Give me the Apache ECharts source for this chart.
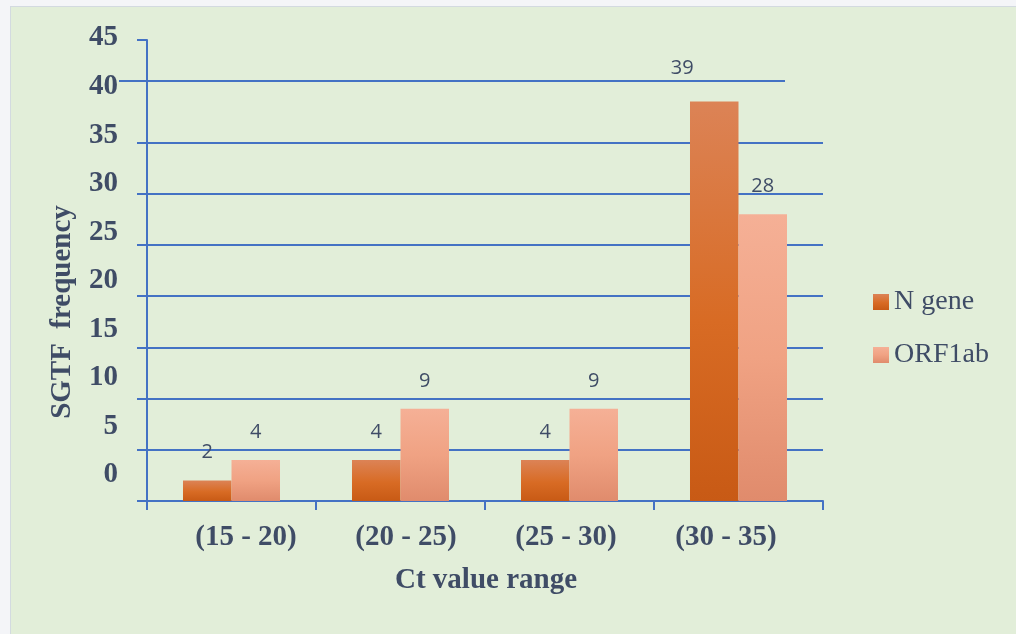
<!DOCTYPE html>
<html>
<head>
<meta charset="utf-8">
<script src="https://cdn.jsdelivr.net/npm/echarts@6/dist/echarts.min.js"></script>
<style>
  html, body { margin: 0; padding: 0; background: #F4F5F8; }
  #panel { position: absolute; left: 10px; top: 6px; width: 1006px; height: 628px;
           background: #E2EED9; border-left: 1px solid #D3DAE0; border-top: 1px solid #D3DAE0;
           box-sizing: border-box; }
  #chart { position: absolute; left: 0; top: 0; width: 1016px; height: 634px; }
</style>
</head>
<body>
<div id="panel"></div>
<div id="chart"></div>
<script>
// SGTF frequency per Ct value range
const categories = ['(15 - 20)', '(20 - 25)', '(25 - 30)', '(30 - 35)'];
const nGene = [2, 4, 4, 39];
const orf1ab = [4, 9, 9, 28];
const yTicks = [0, 5, 10, 15, 20, 25, 30, 35, 40, 45];
const seriesNames = ['N gene', 'ORF1ab'];

const AXIS_BLUE = '#4472C4';
const TEXT = '#3F4C66';
const SERIF = '"Liberation Serif", "DejaVu Serif", serif';
const SANS = '"Open Sans", "Noto Sans", sans-serif';
const HIDDEN_GRID_VALUE = 40;   // the 40 line is drawn separately, slightly higher
const RAISED_LINE_VALUE = 41;

const yMin = yTicks[0], yMax = yTicks[yTicks.length - 1], yStep = yTicks[1] - yTicks[0];

const grad = (stops) => new echarts.graphic.LinearGradient(0, 0, 0, 1,
  stops.map(([offset, color]) => ({ offset, color })));

const nGeneFill = grad([[0, '#DC8356'], [0.55, '#D86B24'], [1, '#C85A15']]);
const orfFill = grad([[0, '#F5B096'], [0.5, '#F0A283'], [1, '#E08B6C']]);

const chart = echarts.init(document.getElementById('chart'), null, { renderer: 'canvas' });

const labelBase = {
  show: true, position: 'top', distance: 18,
  color: TEXT, fontFamily: SANS, fontSize: 20
};

// the label of the tallest bar sits off to the left
const nGeneData = nGene.map((v, i) =>
  i === nGene.length - 1 ? { value: v, label: { offset: [-32, -5] } } : v);

const boldSerif = { color: TEXT, fontFamily: SERIF, fontWeight: 'bold', fontSize: 29 };

chart.setOption({
  animation: false,
  grid: [
    // plot area
    { left: 147, right: 193, top: 40, bottom: 133, containLabel: false },
    // value tick-label column
    { left: 147, right: 193, top: 38, height: 437, containLabel: false },
    // category label row
    { left: 166, width: 640, top: 40, bottom: 133, containLabel: false }
  ],
  legend: {
    orient: 'vertical', left: 868, top: 283,
    itemWidth: 16, itemHeight: 16, itemGap: 25, icon: 'rect',
    textStyle: { color: TEXT, fontFamily: SERIF, fontSize: 28 },
    data: seriesNames
  },
  xAxis: [
    {
      type: 'category', gridIndex: 0, data: categories,
      axisLine: { show: true, lineStyle: { color: AXIS_BLUE, width: 2 } },
      axisTick: { show: true, alignWithLabel: false, length: 9, lineStyle: { color: AXIS_BLUE, width: 2 } },
      axisLabel: { show: false }
    },
    { type: 'value', gridIndex: 1, show: false },
    {
      type: 'category', gridIndex: 2, data: categories,
      axisLine: { show: false }, axisTick: { show: false },
      axisLabel: Object.assign({ margin: 22 }, boldSerif),
      name: 'Ct value range', nameLocation: 'middle', nameGap: 65,
      nameTextStyle: boldSerif
    }
  ],
  yAxis: [
    {
      type: 'value', gridIndex: 0, min: yMin, max: yMax, interval: yStep,
      axisLine: { show: true, lineStyle: { color: AXIS_BLUE, width: 2 } },
      axisTick: { show: true, length: 10, customValues: yTicks.filter(v => v !== HIDDEN_GRID_VALUE),
                  lineStyle: { color: AXIS_BLUE, width: 2 } },
      axisLabel: { show: false },
      splitLine: { show: true, lineStyle: {
        color: yTicks.map(v => v === HIDDEN_GRID_VALUE ? 'rgba(0,0,0,0)' : AXIS_BLUE), width: 2 } }
    },
    {
      type: 'value', gridIndex: 1, min: yMin, max: yMax, interval: yStep,
      axisLine: { show: false }, axisTick: { show: false }, splitLine: { show: false },
      axisLabel: Object.assign({ margin: 29 }, boldSerif)
    },
    { type: 'value', gridIndex: 2, show: false }
  ],
  series: [
    {
      name: seriesNames[0], type: 'bar', xAxisIndex: 0, yAxisIndex: 0,
      data: nGeneData, barGap: '0%', barCategoryGap: '42.6%',
      itemStyle: { color: nGeneFill },
      label: labelBase
    },
    {
      name: seriesNames[1], type: 'bar', xAxisIndex: 0, yAxisIndex: 0,
      data: orf1ab, barGap: '0%', barCategoryGap: '42.6%',
      itemStyle: { color: orfFill },
      label: labelBase
    }
  ]
});

// y-axis title and the raised 40 line
const raisedY = chart.convertToPixel({ yAxisIndex: 0 }, RAISED_LINE_VALUE);
chart.setOption({
  graphic: [
    {
      type: 'text', x: 63, y: 312, rotation: Math.PI / 2,
      style: { text: 'SGTF  frequency', fill: TEXT, font: 'bold 29px ' + SERIF,
               align: 'center', verticalAlign: 'middle' }
    },
    {
      type: 'line', z: 5,
      shape: { x1: 119, y1: raisedY, x2: 785, y2: raisedY },
      style: { stroke: AXIS_BLUE, lineWidth: 2 }
    }
  ]
});
</script>
</body>
</html>
